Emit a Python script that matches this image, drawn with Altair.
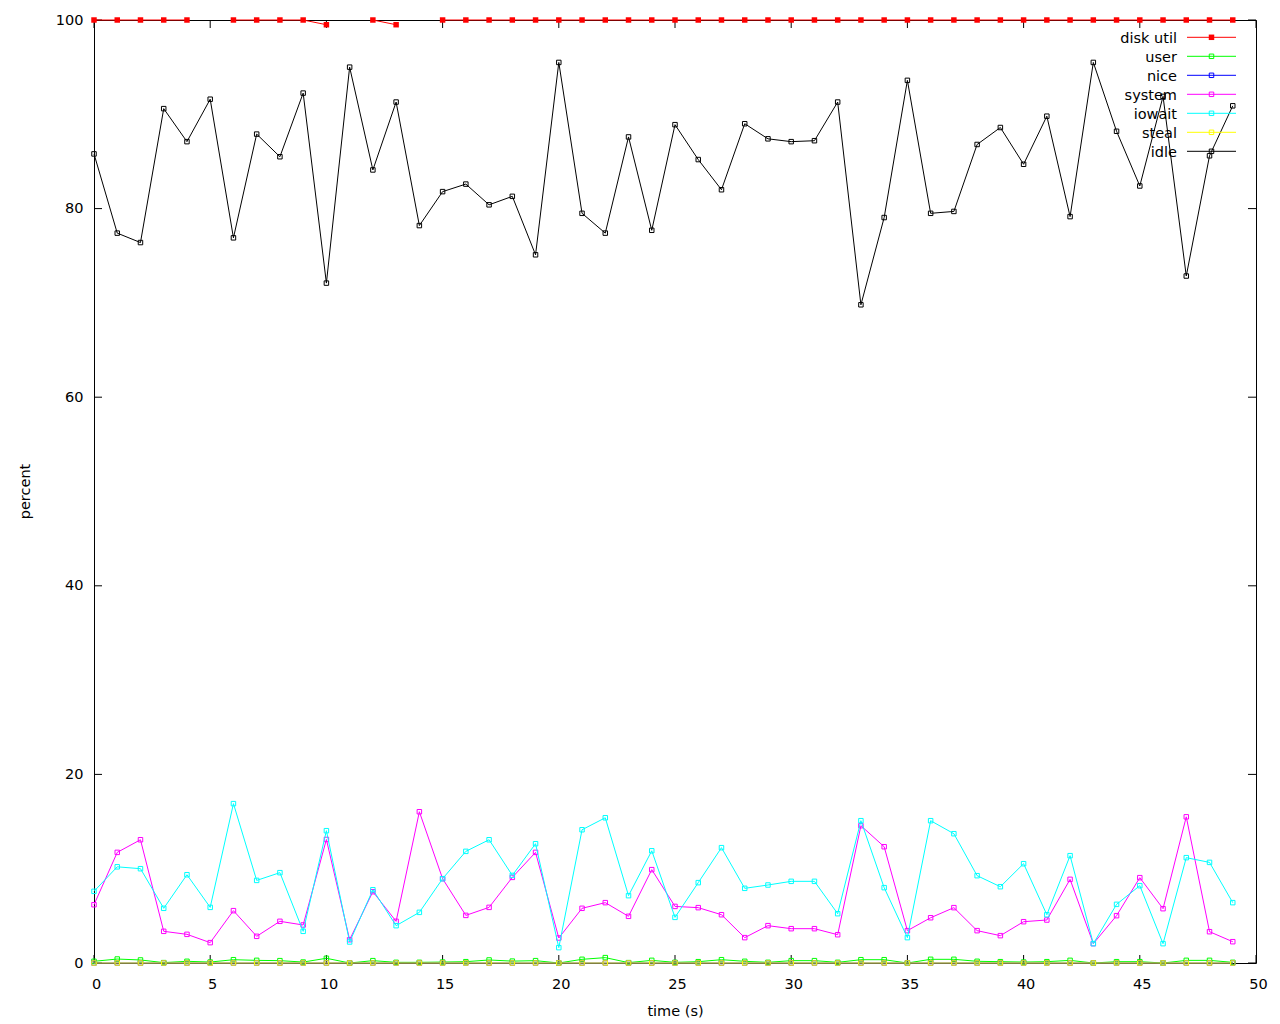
import altair as alt
import pandas as pd

# ---------------- data ----------------
t = list(range(50))

disk_util = [100, 100, 100, 100, 100, None, 100, 100, 100, 100,
             99.5, None, 100, 99.5, None, 100, 100, 100, 100, 100,
             100, 100, 100, 100, 100, 100, 100, 100, 100, 100,
             100, 100, 100, 100, 100, 100, 100, 100, 100, 100,
             100, 100, 100, 100, 100, 100, 100, 100, 100, 100]

user = [0.18, 0.42, 0.32, 0.04, 0.18, 0.10, 0.35, 0.28, 0.25, 0.10,
        0.50, 0.00, 0.25, 0.07, 0.07, 0.10, 0.14, 0.32, 0.20, 0.25,
        0.00, 0.39, 0.57, 0.04, 0.28, 0.07, 0.14, 0.35, 0.18, 0.07,
        0.25, 0.25, 0.07, 0.35, 0.35, 0.00, 0.39, 0.39, 0.18, 0.14,
        0.10, 0.14, 0.28, 0.00, 0.14, 0.14, 0.00, 0.28, 0.28, 0.07]

nice = [0, 0, 0, 0, 0, 0, 0, 0, 0, 0,
        0, 0, 0, 0, 0, 0, 0, 0, 0, 0,
        0, 0, 0, 0, 0, 0, 0, 0, 0, 0,
        0, 0, 0, 0, 0, 0, 0, 0, 0, 0,
        0, 0, 0, 0, 0, 0, 0, 0, 0, 0]

system = [6.18, 11.73, 13.07, 3.36, 3.04, 2.16, 5.55, 2.83, 4.42, 4.03,
          13.1, 2.47, 7.56, 4.42, 16.04, 8.94, 5.05, 5.9, 9.08, 11.73,
          2.65, 5.8, 6.4, 4.95, 9.9, 6.0, 5.87, 5.12, 2.69, 3.96,
          3.64, 3.64, 3.0, 14.56, 12.33, 3.43, 4.8, 5.87, 3.43, 2.9,
          4.38, 4.56, 8.87, 2.05, 5.02, 9.05, 5.76, 15.5, 3.32, 2.26]

iowait = [7.6, 10.2, 10.0, 5.8, 9.36, 5.9, 16.9, 8.76, 9.58, 3.36,
          14.03, 2.23, 7.77, 3.96, 5.37, 8.94, 11.84, 13.07, 9.29, 12.65,
          1.63, 14.13, 15.4, 7.14, 11.9, 4.84, 8.52, 12.23, 7.92, 8.27,
          8.66, 8.66, 5.23, 15.09, 7.99, 2.69, 15.09, 13.71, 9.26, 8.09,
          10.53, 5.12, 11.38, 2.05, 6.22, 8.2, 2.05, 11.17, 10.67, 6.4]

steal = [0, 0, 0, 0, 0, 0, 0, 0, 0, 0,
         0, 0, 0, 0, 0, 0, 0, 0, 0, 0,
         0, 0, 0, 0, 0, 0, 0, 0, 0, 0,
         0, 0, 0, 0, 0, 0, 0, 0, 0, 0,
         0, 0, 0, 0, 0, 0, 0, 0, 0, 0]

idle = [85.8, 77.4, 76.4, 90.6, 87.1, 91.6, 76.9, 87.9, 85.5, 92.25,
        72.1, 95.0, 84.1, 91.3, 78.2, 81.8, 82.6, 80.4, 81.3, 75.1,
        95.5, 79.5, 77.4, 87.6, 77.7, 88.9, 85.2, 82.0, 89.0, 87.4,
        87.1, 87.2, 91.3, 69.8, 79.05, 93.6, 79.5, 79.7, 86.8, 88.6,
        84.7, 89.8, 79.15, 95.5, 88.2, 82.4, 91.9, 72.85, 85.6, 90.9]

series_names = ["disk util", "user", "nice", "system", "iowait", "steal", "idle"]
series_colors = ["#ff0000", "#00ff00", "#0000ff", "#ff00ff", "#00ffff", "#ffff00", "#000000"]
series_values = [disk_util, user, nice, system, iowait, steal, idle]

x_ticks = [0, 5, 10, 15, 20, 25, 30, 35, 40, 45, 50]
y_ticks = [0, 20, 40, 60, 80, 100]

FONT = "DejaVu Sans"
FS = 14.5
W, H = 1162, 943

# ---------------- scales / axes ----------------
xscale = alt.Scale(domain=[0, 50], nice=False, zero=False)
yscale = alt.Scale(domain=[0, 100], nice=False, zero=False)
cscale = alt.Scale(domain=series_names, range=series_colors)

x_axis = alt.Axis(values=x_ticks, ticks=False, tickSize=0, domain=False, grid=False,
                  labelFont=FONT, labelFontSize=FS, labelColor="#000000", labelPadding=14,
                  labelFlush=False, labelOffset=2, labelOverlap=False,
                  title="time (s)", titleFont=FONT, titleFontSize=FS, titleFontWeight="normal",
                  titleColor="#000000", titleY=48, titleBaseline="middle")
y_axis = alt.Axis(values=y_ticks, ticks=False, tickSize=0, domain=False, grid=False,
                  labelFont=FONT, labelFontSize=FS, labelColor="#000000", labelPadding=11,
                  labelFlush=False, labelOverlap=False,
                  title="percent", titleFont=FONT, titleFontSize=FS, titleFontWeight="normal",
                  titleColor="#000000", titleX=-69, titleY=471, titleAngle=270,
                  titleAlign="center", titleBaseline="middle")

rows = []
for name, vals in zip(series_names, series_values):
    for ti, v in zip(t, vals):
        rows.append({"t": ti, "v": v, "series": name})
df = pd.DataFrame(rows)

X = alt.X("t:Q", scale=xscale, axis=x_axis)
Y = alt.Y("v:Q", scale=yscale, axis=y_axis)
C = alt.Color("series:N", scale=cscale, legend=None)

layers = []

# inward tick marks on all four sides
xt = pd.DataFrame({"t": x_ticks})
yt = pd.DataFrame({"v": y_ticks})
layers.append(alt.Chart(xt).mark_rule(color="black", strokeWidth=1).encode(
    x=X, y=alt.value(H - 8), y2=alt.value(H)))
layers.append(alt.Chart(xt).mark_rule(color="black", strokeWidth=1).encode(
    x=X, y=alt.value(0), y2=alt.value(8)))
layers.append(alt.Chart(yt).mark_rule(color="black", strokeWidth=1).encode(
    y=Y, x=alt.value(0), x2=alt.value(8)))
layers.append(alt.Chart(yt).mark_rule(color="black", strokeWidth=1).encode(
    y=Y, x=alt.value(W - 8), x2=alt.value(W)))

# series: line then points, in gnuplot drawing order
for name in series_names:
    sd = df[df["series"] == name]
    base = alt.Chart(sd).encode(x=X, y=Y, color=C)
    layers.append(base.mark_line(strokeWidth=1))
    if name == "disk util":
        layers.append(base.mark_point(shape="square", filled=True, size=30, opacity=1))
    else:
        layers.append(base.mark_point(shape="square", filled=False, size=20,
                                      strokeWidth=1, opacity=1))

# key (gnuplot style: label on the left, sample line + marker on the right)
key = pd.DataFrame({"series": series_names, "rank": list(range(len(series_names)))})
key["ly"] = 17.3 + 19 * key["rank"]
key["lt"] = key["ly"] + 2
LY = alt.Y("ly:Q", scale=None, axis=None)
layers.append(alt.Chart(key).mark_text(align="right", baseline="middle", font=FONT,
                                       fontSize=FS, color="#000000").encode(
    x=alt.value(1083), y=alt.Y("lt:Q", scale=None, axis=None), text="series:N"))
layers.append(alt.Chart(key).mark_rule(strokeWidth=1).encode(
    x=alt.value(1093), x2=alt.value(1142), y=LY, color=C))
layers.append(alt.Chart(key[key["series"] == "disk util"]).mark_point(
    shape="square", filled=True, size=30, opacity=1).encode(
    x=alt.value(1117.5), y=LY, color=C))
layers.append(alt.Chart(key[key["series"] != "disk util"]).mark_point(
    shape="square", filled=False, size=20, strokeWidth=1, opacity=1).encode(
    x=alt.value(1117.5), y=LY, color=C))

chart = alt.layer(*layers).properties(
    width=W, height=H,
    autosize=alt.AutoSizeParams(type="none"),
    padding={"left": 86, "top": 12, "right": 16, "bottom": 55},
    background="white",
).configure(font=FONT).configure_view(stroke="black", strokeWidth=1)

chart.save("out.html", embed_options={"renderer": "svg", "actions": False})
